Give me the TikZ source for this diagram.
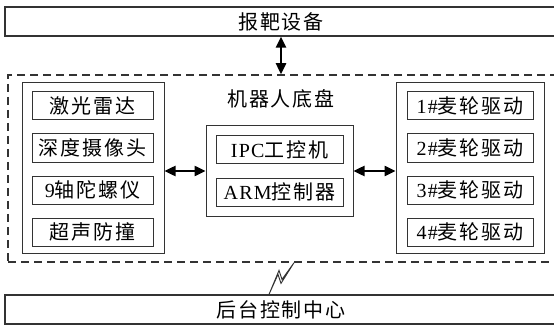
\documentclass[tikz,border=0pt]{standalone}
\usepackage{fontspec}
\setmainfont{Liberation Serif}[LetterSpace=6]
\newfontfamily\zh{Noto Sans CJK SC}[LetterSpace=9]
\usetikzlibrary{positioning,arrows.meta}

\begin{document}
\begin{tikzpicture}[x=1pt, y=-1pt,
					font=\fontsize{20}{24}\selectfont,
					bar/.style={rectangle, draw=black!80, line width=1.2pt, minimum width=552pt, minimum height=29pt, inner sep=0pt},
					frame/.style={rectangle, draw=black!80, dash pattern=on 8pt off 5pt, line width=1.5pt, inner sep=0pt},
					group/.style={rectangle, draw=black!80, line width=1pt, inner sep=0pt},
					item/.style={rectangle, draw=black!80, line width=1pt, minimum height=28pt, inner sep=0pt},
					link/.style={line width=2.4pt, {Triangle[length=11pt,width=10pt]}-{Triangle[length=11pt,width=10pt]}}
				]
				\useasboundingbox (0,0) rectangle (554,326);
				\node[bar] (target) at (281,21.5) {\zh 报靶设备};
				\node[bar] (backend) at (281,309.5) {\zh 后台控制中心};
				\node[frame, minimum width=552pt, minimum height=187pt] (chassis) at (284,168.5) {};
				\node (title) at (281,99) {\zh 机器人底盘};
				% sensors
				\node[group, minimum width=142pt, minimum height=170pt] (sensors) at (93,168) {};
				\node[item, minimum width=121pt] (lidar) at (92.5,106) {\zh 激光雷达};
				\node[item, minimum width=121pt] (depthcam) [below=13pt of lidar] {\zh 深度摄像头};
				\node[item, minimum width=121pt] (imu) [below=13pt of depthcam] {9{\zh 轴陀螺仪}};
				\node[item, minimum width=121pt] (sonar) [below=13pt of imu] {\zh 超声防撞};
				% controllers
				\node[group, minimum width=147pt, minimum height=90pt] (computing) at (279.5,171) {};
				\node[item, minimum width=127pt, minimum height=27pt] (ipc) at (279.5,149.5) {IPC{\zh 工控机}};
				\node[item, minimum width=127pt] (arm) [below=14pt of ipc] {ARM{\zh 控制器}};
				% wheel drives
				\node[group, minimum width=148pt, minimum height=170pt] (drives) at (470,168) {};
				\node[item, minimum width=126pt] (wheelone) at (470,106) {1\#{\zh 麦轮驱动}};
				\node[item, minimum width=126pt] (wheeltwo) [below=13pt of wheelone] {2\#{\zh 麦轮驱动}};
				\node[item, minimum width=126pt] (wheelthree) [below=13pt of wheeltwo] {3\#{\zh 麦轮驱动}};
				\node[item, minimum width=126pt] (wheelfour) [below=13pt of wheelthree] {4\#{\zh 麦轮驱动}};
				\begin{scope}[link]
				\draw (target.south) -- (target.south |- chassis.north);
				\draw (sensors.east |- computing.center) -- (computing.west);
				\draw (computing.east) -- (drives.west |- computing.center);
				\end{scope}
				\coordinate (boltfoot) at ([xshift=-12pt]backend.north);
				\coordinate (bolttop) at ([xshift=10pt]chassis.south);
				\draw[line width=0.9pt, black!80] (boltfoot) -- ++(10,-24) -- ++(3,9) -- (bolttop)
					(boltfoot) -- ++(9,-20) -- ++(3,9) -- (bolttop);
				\end{tikzpicture}
\end{document}
